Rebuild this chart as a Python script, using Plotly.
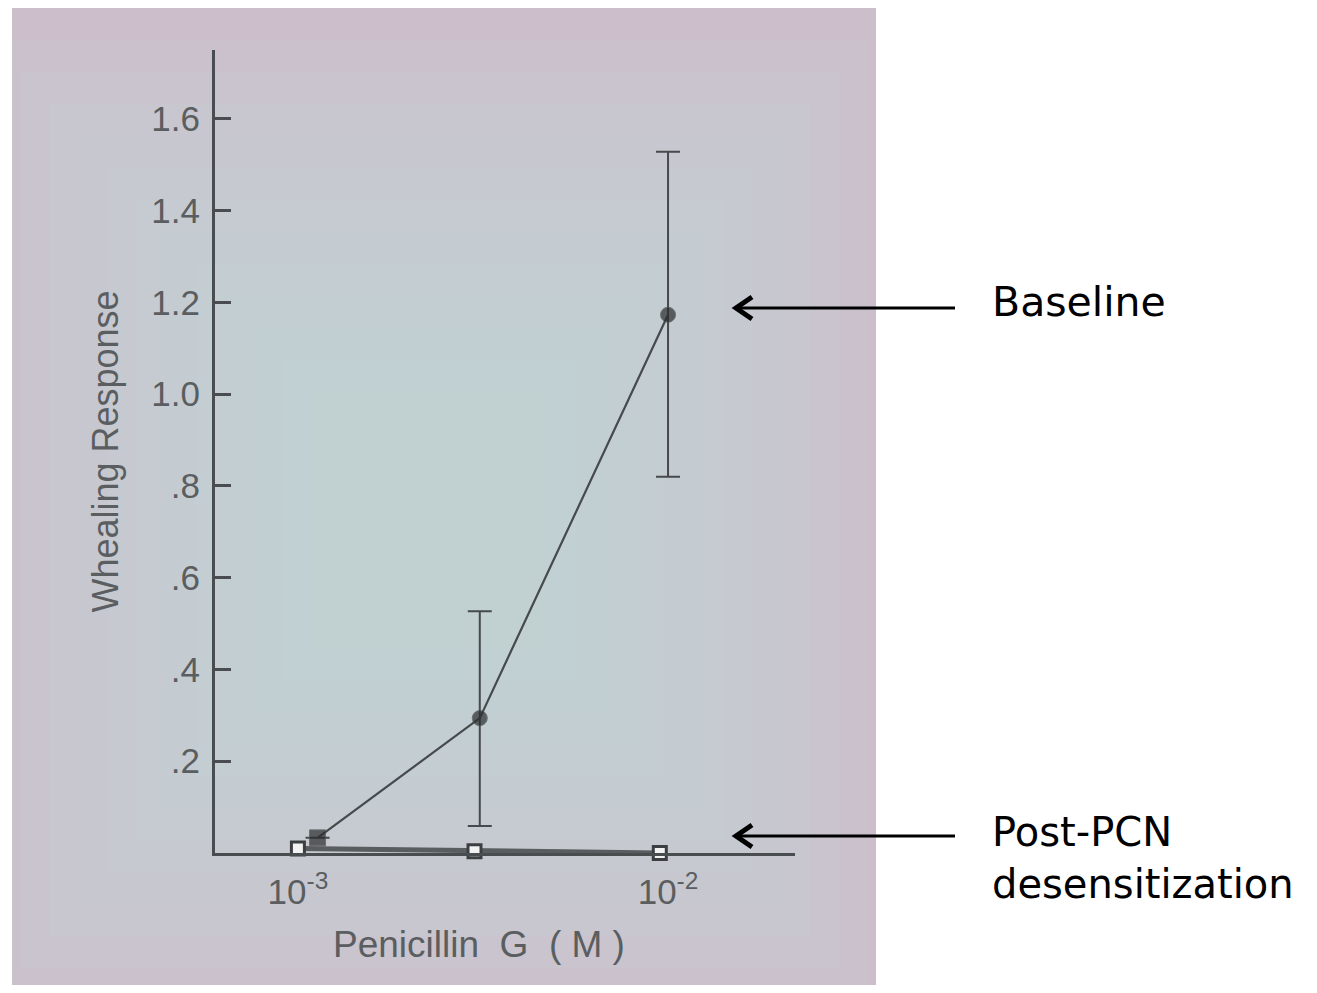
import plotly.graph_objects as go

# ---- data ----
baseline_x = [0.00113, 0.0031, 0.01]
baseline_y = [0.033, 0.294, 1.173]
baseline_err_hi = [None, 0.527, 1.528]
baseline_err_lo = [None, 0.059, 0.820]

post_x = [0.001, 0.003, 0.0095]
post_y = [0.010, 0.004, 0.0]

y_tickvals = [0.2, 0.4, 0.6, 0.8, 1.0, 1.2, 1.4, 1.6]
y_ticktext = [".2", ".4", ".6", ".8", "1.0", "1.2", "1.4", "1.6"]
x_tickvals = [0.001, 0.01]
x_ticktext = ["10<sup>-3</sup>", "10<sup>-2</sup>"]

OFF = 8  # page body margin
W, H = 1300, 977
L, R, T, B = 215 - OFF, 795 - OFF, 50 - OFF, 853 - OFF  # plot area in pixels


def px(x):
    return (x - OFF - L) / (R - L)


def py(y):
    return (B - (y - OFF)) / (B - T)


err_plus = [0 if h is None else h - v for h, v in zip(baseline_err_hi, baseline_y)]
err_minus = [0 if l is None else v - l for l, v in zip(baseline_err_lo, baseline_y)]

ink = "#474a4c"
grey_text = "#5a5e60"

fig = go.Figure()

fig.add_trace(go.Scatter(
    x=post_x, y=post_y, mode="lines+markers",
    line=dict(color="#5a5d5f", width=5),
    marker=dict(symbol="square", size=13, color="#f2f2f2",
                line=dict(color="#3c3f41", width=3)),
    showlegend=False, cliponaxis=False,
))

fig.add_trace(go.Scatter(
    x=baseline_x, y=baseline_y, mode="lines+markers",
    line=dict(color=ink, width=2.2),
    marker=dict(symbol=["square", "circle", "circle"], size=[16, 15, 15],
                color="#2a2c2e"),
    error_y=dict(type="data", symmetric=False, array=err_plus,
                 arrayminus=err_minus, color=ink, thickness=2, width=12),
    showlegend=False, cliponaxis=False,
))

shapes = []
# photo background with a soft bluish centre
shapes.append(dict(type="rect", xref="paper", yref="paper",
                   x0=px(12), x1=px(876), y0=py(990), y1=py(5),
                   fillcolor="#cdbecb", line=dict(width=0), layer="below"))
cx, cy = 430, 520
n = 12
for i in range(n):
    k = 1.0 - i * (0.8 / n)
    hw, hh = 440 * k, 480 * k
    shapes.append(dict(type="rect", xref="paper", yref="paper",
                       x0=px(max(12, cx - hw)), x1=px(min(876, cx + hw)),
                       y0=py(min(990, cy + hh)), y1=py(max(5, cy - hh)),
                       fillcolor="rgba(190,217,219,0.13)", line=dict(width=0),
                       layer="below"))

# arrows
for yy in [308, 836]:
    shapes.append(dict(type="line", xref="paper", yref="paper",
                       x0=px(735), x1=px(955), y0=py(yy), y1=py(yy),
                       line=dict(color="black", width=3)))
    path = "M %f,%f L %f,%f L %f,%f" % (px(752), py(yy - 11), px(736), py(yy),
                                        px(752), py(yy + 11))
    shapes.append(dict(type="path", xref="paper", yref="paper", path=path,
                       line=dict(color="black", width=5)))

annotations = [
    dict(text="Baseline", xref="paper", yref="paper", x=px(990), y=py(302),
         xanchor="left", yanchor="middle", showarrow=False,
         font=dict(family="DejaVu Sans", size=41, color="black")),
    dict(text="Post-PCN<br>desensitization", xref="paper", yref="paper",
         x=px(990), y=py(858), xanchor="left", yanchor="middle",
         showarrow=False, align="left",
         font=dict(family="DejaVu Sans", size=40, color="black")),
    # x-axis title (placed left of centre, as in the photo)
    dict(text="Penicillin  G  ( M )", xref="paper", yref="paper",
         x=px(479), y=py(944), xanchor="center", yanchor="middle",
         showarrow=False,
         font=dict(family="Liberation Sans", size=37, color=grey_text)),
]

fig.update_layout(
    width=W, height=H,
    margin=dict(l=L, r=W - R, t=T, b=H - B, pad=0),
    paper_bgcolor="white", plot_bgcolor="rgba(0,0,0,0)",
    shapes=shapes, annotations=annotations,
    font=dict(family="Liberation Sans", color="#555a5c"),
)

fig.update_xaxes(
    type="log", range=[-3.224, -1.657],
    showline=True, linecolor="#4a4d4f", linewidth=3,
    showgrid=False, zeroline=False, ticks="",
    tickvals=x_tickvals, ticktext=x_ticktext, ticklabelstandoff=6,
    tickfont=dict(size=35, color=grey_text),
)
fig.update_yaxes(
    range=[0, 1.75],
    showline=True, linecolor="#4a4d4f", linewidth=3,
    showgrid=False, zeroline=False,
    ticks="inside", ticklen=16, tickwidth=2.5, tickcolor="#4a4d4f",
    tickvals=y_tickvals, ticktext=y_ticktext, ticklabelstandoff=5,
    tickfont=dict(size=35, color=grey_text),
    title=dict(text="Whealing Response", font=dict(size=36, color=grey_text),
               standoff=22),
)

fig.write_html("out.html")
